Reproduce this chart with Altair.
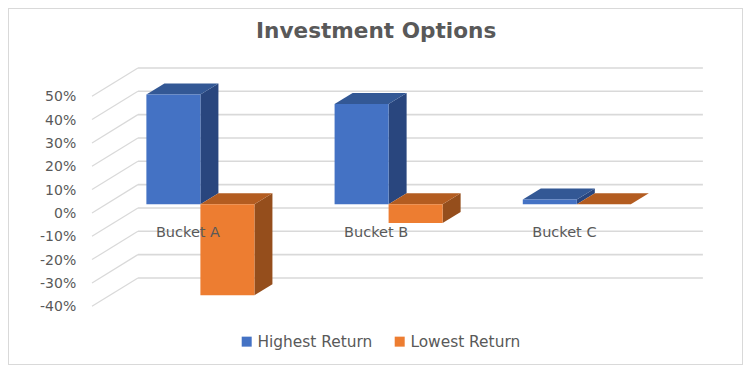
import altair as alt
import pandas as pd

# ---- chart values ----
buckets = ["Bucket A", "Bucket B", "Bucket C"]
series_names = ["Highest Return", "Lowest Return"]
highest = [47, 43, 2]
lowest = [-39, -8, 0]
ticks = [50, 40, 30, 20, 10, 0, -10, -20, -30, -40]
tick_labels = ["50%", "40%", "30%", "20%", "10%", "0%", "-10%", "-20%", "-30%", "-40%"]

front_colors = ["#4472C4", "#ED7D31"]
side_colors = ["#29467E", "#954E1C"]
top_colors = ["#335895", "#B35C20"]
grid_color = "#D9D9D9"
text_color = "#595959"
font = "DejaVu Sans"

# ---- layout in scale units (x: category index, y: percent) ----
W, H = 735, 357
x_dom = [-192.4 / 188.2, (W - 192.4) / 188.2]
y_dom = [-68.9, 84.1]
bar_w = 0.287          # bar width along x
dx, dy = 0.0957, 4.71  # bar depth
gl_front, gl_back, gl_right = -0.576, -0.332, 2.67
front_shift, back_shift = -3.73, 8.4
tick_x = -0.660
cat_dx, cat_y = -0.066, -12.3

X = alt.Scale(domain=x_dom, nice=False, zero=False)
Y = alt.Scale(domain=y_dom, nice=False, zero=False)


def xq(f):
    return alt.X(f, type="quantitative", scale=X, axis=None)


def yq(f):
    return alt.Y(f, type="quantitative", scale=Y, axis=None)


fronts, sides, tops = [], [], []
for c, name in enumerate(buckets):
    for s, vals in enumerate([highest, lowest]):
        v = vals[c]
        x0 = c + (-bar_w if s == 0 else 0)
        x1 = x0 + bar_w
        hi, lo = max(v, 0), min(v, 0)
        bar = f"{c}-{s}"
        fronts.append(dict(x=x0, x2=x1, y=hi, y2=lo, series=series_names[s]))
        sides += [
            dict(bar=bar, x=x1, y=hi, y2=lo, col=side_colors[s]),
            dict(bar=bar, x=x1 + dx, y=hi + dy, y2=lo + dy, col=side_colors[s]),
        ]
        tops += [
            dict(bar=bar, y=hi, x=x0, x2=x1, col=top_colors[s]),
            dict(bar=bar, y=hi + dy, x=x0 + dx, x2=x1 + dx, col=top_colors[s]),
        ]

grid = pd.DataFrame(dict(v=ticks, label=tick_labels))
grid["yf"] = grid.v + front_shift
grid["yb"] = grid.v + back_shift
grid["xf"] = gl_front
grid["xb"] = gl_back
grid["xr"] = gl_right
grid["xt"] = tick_x

cats = pd.DataFrame(dict(name=buckets, x=[i + cat_dx for i in range(3)], y=cat_y))

slant = alt.Chart(grid).mark_rule(color=grid_color, strokeWidth=1.2).encode(
    x=xq("xf"), x2="xb", y=yq("yf"), y2="yb")
flat = alt.Chart(grid).mark_rule(color=grid_color, strokeWidth=1.6).encode(
    x=xq("xb"), x2="xr", y=yq("yb"))
tick_text = alt.Chart(grid).mark_text(
    align="right", baseline="middle", font=font, fontSize=14, color=text_color, dy=1
).encode(x=xq("xt"), y=yq("yf"), text="label:N")

side = alt.Chart(pd.DataFrame(sides)).mark_area(orient="vertical").encode(
    x=xq("x"), y=yq("y"), y2="y2", detail="bar:N",
    color=alt.Color("col:N", scale=None))
top = alt.Chart(pd.DataFrame(tops)).mark_area(orient="horizontal").encode(
    y=yq("y"), x=xq("x"), x2="x2", detail="bar:N",
    color=alt.Color("col:N", scale=None))
front = alt.Chart(pd.DataFrame(fronts)).mark_rect().encode(
    x=xq("x"), x2="x2", y=yq("y"), y2="y2",
    color=alt.Color(
        "series:N",
        scale=alt.Scale(domain=series_names, range=front_colors),
        legend=alt.Legend(
            title=None, orient="none", legendX=231, legendY=325.5,
            direction="horizontal", symbolType="square", symbolSize=100,
            symbolStrokeWidth=0, labelFont=font, labelFontSize=15.4,
            labelColor=text_color, columnPadding=19, labelOffset=3,
        ),
    ),
)
cat_text = alt.Chart(cats).mark_text(
    align="center", baseline="middle", font=font, fontSize=14.5, color=text_color
).encode(x=xq("x"), y=yq("y"), text="name:N")

chart = (
    alt.layer(slant, flat, tick_text, side, top, front, cat_text)
    .properties(
        width=W, height=H, padding=0,
        autosize=alt.AutoSizeParams(type="none"),
        title=alt.TitleParams(
            "Investment Options", anchor="start", frame="group", dx=248, dy=39,
            font=font, fontSize=21.6, fontWeight="bold", color=text_color,
        ),
    )
    .configure_view(stroke=grid_color, strokeWidth=2)
)

chart.save("out.html", embed_options={"renderer": "svg", "actions": False})
